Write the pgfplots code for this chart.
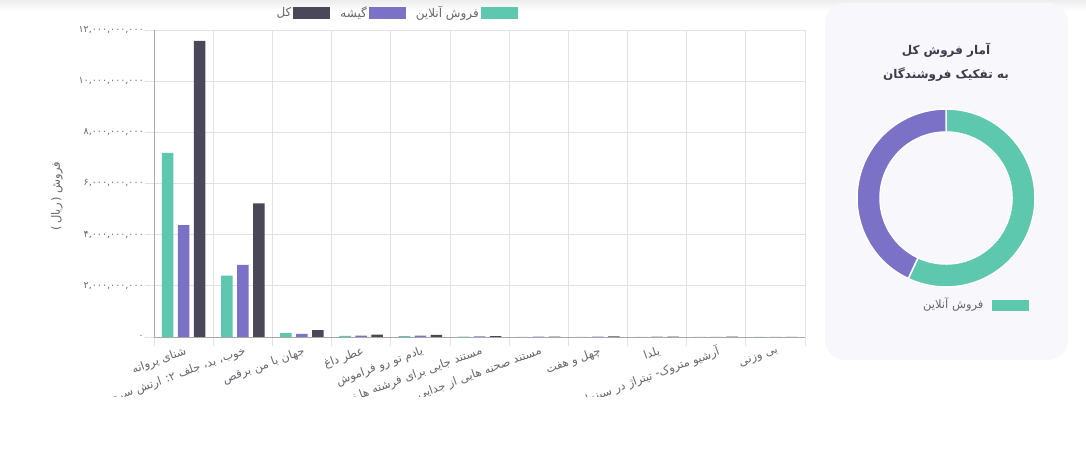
\documentclass[border=0pt]{standalone}
\usepackage{pgfplots}
\pgfplotsset{compat=1.18}
\usepackage{fontspec}
\setmainfont{DejaVu Sans}
\newfontfamily\fa[Script=Arabic]{DejaVu Sans}
\TeXXeTstate=1

\definecolor{cOnline}{HTML}{5EC8AE}
\definecolor{cBox}{HTML}{7B72C8}
\definecolor{cTotal}{HTML}{4A4758}
\definecolor{gridc}{HTML}{E2E2E2}
\definecolor{axisc}{HTML}{A8A8A8}
\definecolor{labc}{HTML}{666670}
\definecolor{panel}{HTML}{F8F8FC}
\definecolor{titlec}{HTML}{3C3B4C}

% totals per seller (billion rial), for the ring
\def\sumOnline{9.84}
\def\sumBox{7.43}

\begin{document}
\begin{tikzpicture}[x=1pt,y=1pt]
\useasboundingbox (0,0) rectangle (1086,449);
\fill[white] (0,0) rectangle (1086,449);
\shade[top color=black!7, bottom color=white] (0,438) rectangle (1086,449);

% bar chart
\begin{scope}
\clip (0,52) rectangle (820,449);
\begin{axis}[
  at={(154pt,112pt)}, anchor=south west,
  scale only axis, width=651pt, height=307pt,
  xmin=-0.5, xmax=10.5, ymin=0, ymax=12,
  ybar=4.5pt, bar width=11.5pt,
  axis x line*=bottom, axis y line*=left,
  axis line style={draw=axisc, line width=0.8pt, -},
  % category borders carry the grid and the ticks
  xtick={-0.5,0.5,...,10.5}, xticklabels={}, xmajorgrids,
  % category names sit at the middles
  extra x ticks={0,...,10},
  extra x tick labels={
    {\beginR شنای پروانه\endR},
    {\beginR خوب، بد، جلف ۲: ارتش سری\endR},
    {\beginR جهان با من برقص\endR},
    {\beginR عطر داغ\endR},
    {\beginR یادم تو رو فراموش\endR},
    {\beginR مستند جایی برای فرشته ها نیست\endR},
    {\beginR مستند صحنه هایی از جدایی\endR},
    {\beginR چهل و هفت\endR},
    {\beginR یلدا\endR},
    {\beginR آرشیو متروک- تیتراژ در سینما\endR},
    {\beginR بی وزنی\endR}},
  extra x tick style={grid=none, major tick length=0pt,
    xticklabel style={rotate=20, anchor=east, xshift=1pt, yshift=-14pt,
      font=\fa\fontsize{11.5}{13}\selectfont, text=labc}},
  ytick={0,2,...,12}, ymajorgrids,
  major grid style={gridc, line width=0.8pt},
  yticklabels={۰,{۲,۰۰۰,۰۰۰,۰۰۰},{۴,۰۰۰,۰۰۰,۰۰۰},{۶,۰۰۰,۰۰۰,۰۰۰},
    {۸,۰۰۰,۰۰۰,۰۰۰},{۱۰,۰۰۰,۰۰۰,۰۰۰},{۱۲,۰۰۰,۰۰۰,۰۰۰}},
  yticklabel style={font=\fa\fontsize{9.5}{11}\selectfont, text=labc, inner sep=1pt},
  tick align=outside, major tick length=9pt,
  tick style={gridc, line width=0.8pt},
  ylabel={(\,{\fa\beginR ریال\endR}\,)\ {\fa\beginR فروش\endR}},
  ylabel style={at={(axis description cs:-0.149,0.459)}, anchor=center,
    font=\fontsize{11.5}{13}\selectfont, text=labc},
  legend style={at={(0.372,1.055)}, anchor=center, draw=none, fill=none,
    legend columns=3, font=\fa\fontsize{12}{14}\selectfont, text=labc,
    /tikz/every even column/.append style={column sep=8pt}},
  legend plot pos=right, reverse legend,
  legend image code/.code={\fill[#1] (0pt,-6pt) rectangle (37pt,6pt);},
]
\addplot[fill=cOnline, draw=none] coordinates {
  (0,7.20) (1,2.40) (2,0.15) (3,0.04) (4,0.03) (5,0.01) (6,0.005) (7,0.004) (8,0.003) (9,0.002) (10,0.002)};
\addplot[fill=cBox, draw=none] coordinates {
  (0,4.37) (1,2.82) (2,0.12) (3,0.05) (4,0.05) (5,0.02) (6,0.01) (7,0.01) (8,0.01) (9,0.005) (10,0.003)};
\addplot[fill=cTotal, draw=none] coordinates {
  (0,11.57) (1,5.22) (2,0.27) (3,0.09) (4,0.08) (5,0.03) (6,0.015) (7,0.02) (8,0.015) (9,0.01) (10,0.006)};
\legend{{\beginR فروش آنلاین\endR}, {\beginR گیشه\endR}, {\beginR کل\endR}}
\end{axis}
\end{scope}

% side panel with ring chart
\fill[panel, rounded corners=20pt] (825,89) rectangle (1068,446);
\node[font=\fa\bfseries\fontsize{12}{14}\selectfont, text=titlec] at (946,399) {\beginR آمار فروش کل\endR};
\node[font=\fa\bfseries\fontsize{12}{14}\selectfont, text=titlec] at (946,374) {\beginR به تفکیک فروشندگان\endR};
\pgfmathsetmacro\ang{360*\sumOnline/(\sumOnline+\sumBox)}
\pgfmathsetmacro\endang{90-\ang}
\fill[cOnline, draw=white, line width=1.5pt]
  ([shift={(90:89)}]946,251) arc[start angle=90, end angle=\endang, radius=89]
  -- ([shift={(\endang:66)}]946,251) arc[start angle=\endang, end angle=90, radius=66] -- cycle;
\fill[cBox, draw=white, line width=1.5pt]
  ([shift={(\endang:89)}]946,251) arc[start angle=\endang, end angle=-270, radius=89]
  -- ([shift={(-270:66)}]946,251) arc[start angle=-270, end angle=\endang, radius=66] -- cycle;
\fill[cOnline] (992,138) rectangle (1029,149);
\node[anchor=east, font=\fa\fontsize{11.5}{13}\selectfont, text=labc] at (987,144) {\beginR فروش آنلاین\endR};
\end{tikzpicture}
\end{document}
